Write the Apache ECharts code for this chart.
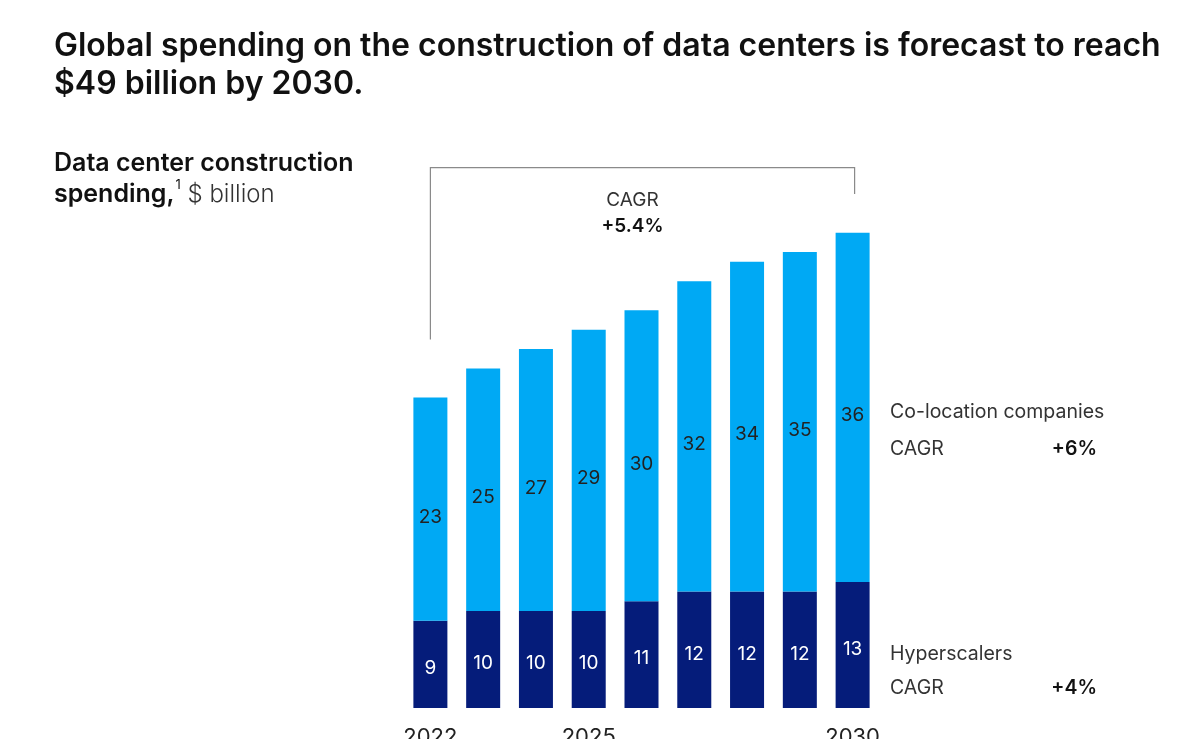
<!DOCTYPE html>
<html>
<head>
<meta charset="utf-8">
<script src="https://cdn.jsdelivr.net/npm/echarts@6/dist/echarts.min.js"></script>
<style>
	html, body { margin: 0; padding: 0; background: #fff; }
	#chart { width: 1200px; height: 739px; }
</style>
</head>
<body>
<div id="chart"></div>
<script>
var years = ['2022', '2023', '2024', '2025', '2026', '2027', '2028', '2029', '2030'];
var shownYears = ['2022', '2025', '2030'];
var hyperscalers = [9, 10, 10, 10, 11, 12, 12, 12, 13];
var colocation = [23, 25, 27, 29, 30, 32, 34, 35, 36];

var font = 'Inter';
var lightBlue = '#00a9f4';
var navy = '#051c7a';

var chart = echarts.init(document.getElementById('chart'));

var option = {
	animation: false,
	textStyle: { fontFamily: font },
	grid: {
		left: 404,
		right: 321,
		top: 223,
		bottom: 31,
		outerBoundsMode: 'none',
		containLabel: false
	},
	xAxis: {
		type: 'category',
		data: years,
		axisLine: { show: false },
		axisTick: { show: false },
		axisLabel: {
			margin: 18,
			fontSize: 22,
			color: '#222',
			interval: 0,
			formatter: function(v) {
				return shownYears.indexOf(v) >= 0 ? v : '';
			}
		}
	},
	yAxis: {
		type: 'value',
		min: 0,
		max: 50,
		show: false
	},
	series: [{
		name: 'Hyperscalers',
		type: 'bar',
		stack: 'total',
		barWidth: 34,
		data: hyperscalers,
		itemStyle: { color: navy },
		label: {
			show: true,
			position: 'inside',
			offset: [0, 4],
			color: '#fff',
			fontSize: 19
		}
	}, {
		name: 'Co-location companies',
		type: 'bar',
		stack: 'total',
		barWidth: 34,
		data: colocation,
		itemStyle: { color: lightBlue },
		label: {
			show: true,
			position: 'inside',
			offset: [0, 8],
			color: '#222',
			fontSize: 19
		}
	}]
};
chart.setOption(option);

// bracket above the bars, placed from the axes
var p0 = chart.convertToPixel({ gridIndex: 0 }, [0, 38]);
var p1 = chart.convertToPixel({ gridIndex: 0 }, [years.length - 1, 53]);
var pTop = chart.convertToPixel({ gridIndex: 0 }, [0, 55.7]);
var bracketColor = '#8a8a8a';
var midX = (p0[0] + p1[0]) / 2 - 9;

chart.setOption({
	graphic: [{
		type: 'polyline',
		shape: { points: [[p0[0], p0[1]], [p0[0], pTop[1]], [p1[0] + 2, pTop[1]], [p1[0] + 2, p1[1]]] },
		style: { stroke: bracketColor, lineWidth: 1.2, fill: null }
	}, {
		type: 'text',
		left: 54, top: 27,
		style: {
			text: 'Global spending on the construction of data centers is forecast to reach\n$49 billion by 2030.',
			font: '600 32px ' + font,
			fill: '#111',
			lineHeight: 38.5
		}
	}, {
		type: 'text',
		left: 54, top: 148,
		style: {
			text: '{b|Data center construction}\n{b|spending,}{sup|1}{r| $ billion}',
			font: '25px ' + font,
			fill: '#111',
			lineHeight: 31,
			rich: {
				b: { fontSize: 25, fontWeight: 600, fontFamily: font, fill: '#111' },
				sup: { fontSize: 13, fontFamily: font, verticalAlign: 'top', fill: '#111', padding: [0, 0, 10, 1] },
				r: { fontSize: 24, fontWeight: 300, fontFamily: font, fill: '#333' }
			}
		}
	}, {
		type: 'text',
		x: midX, y: 191,
		style: { text: 'CAGR', font: '19px ' + font, fill: '#333', align: 'center' }
	}, {
		type: 'text',
		x: midX, y: 217,
		style: { text: '+5.4%', font: '600 19px ' + font, fill: '#111', align: 'center' }
	}, {
		type: 'text', x: 890, y: 402,
		style: { text: 'Co-location companies', font: '19.5px ' + font, fill: '#333' }
	}, {
		type: 'text', x: 890, y: 439,
		style: { text: 'CAGR', font: '19.5px ' + font, fill: '#333' }
	}, {
		type: 'text', x: 1097, y: 439,
		style: { text: '+6%', font: '600 19.5px ' + font, fill: '#111', align: 'right' }
	}, {
		type: 'text', x: 890, y: 644,
		style: { text: 'Hyperscalers', font: '19.5px ' + font, fill: '#333' }
	}, {
		type: 'text', x: 890, y: 678,
		style: { text: 'CAGR', font: '19.5px ' + font, fill: '#333' }
	}, {
		type: 'text', x: 1097, y: 678,
		style: { text: '+4%', font: '600 19.5px ' + font, fill: '#111', align: 'right' }
	}]
});
</script>
</body>
</html>
